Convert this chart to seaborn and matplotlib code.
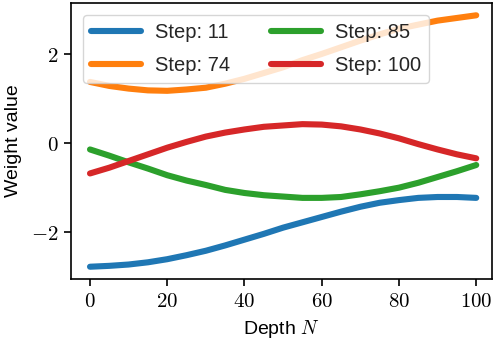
import numpy as np
import pandas as pd
import seaborn as sns
import matplotlib
matplotlib.use("Agg")
import matplotlib.pyplot as plt
from matplotlib.ticker import FuncFormatter

depth = [0, 5, 10, 15, 20, 25, 30, 35, 40, 45, 50, 55, 60, 65, 70, 75, 80, 85, 90, 95, 100]
step_11 = [-2.78, -2.76, -2.73, -2.68, -2.61, -2.52, -2.42, -2.30, -2.17, -2.04, -1.90,
           -1.78, -1.66, -1.54, -1.43, -1.34, -1.28, -1.23, -1.21, -1.21, -1.23]
step_74 = [1.38, 1.29, 1.23, 1.19, 1.18, 1.21, 1.25, 1.34, 1.45, 1.58, 1.71,
           1.87, 2.01, 2.16, 2.31, 2.45, 2.58, 2.67, 2.76, 2.82, 2.88]
step_85 = [-0.14, -0.28, -0.43, -0.57, -0.72, -0.84, -0.94, -1.05, -1.12, -1.17, -1.20,
           -1.23, -1.23, -1.21, -1.15, -1.08, -1.00, -0.89, -0.76, -0.63, -0.49]
step_100 = [-0.68, -0.55, -0.40, -0.25, -0.10, 0.03, 0.15, 0.24, 0.31, 0.37, 0.40,
            0.43, 0.42, 0.38, 0.31, 0.22, 0.11, -0.02, -0.14, -0.25, -0.34]
labels = ["Step: 11", "Step: 74", "Step: 85", "Step: 100"]
colors = ["#1f77b4", "#ff7f0e", "#2ca02c", "#d62728"]

sns.set_style("ticks")
plt.rcParams['font.family'] = ['Liberation Sans', 'DejaVu Sans']
plt.rcParams['mathtext.fontset'] = 'cm'

rows = []
for lab, vals in zip(labels, [step_11, step_74, step_85, step_100]):
    for d, v in zip(depth, vals):
        rows.append({"Depth": d, "Weight": v, "Step": lab})
df = pd.DataFrame(rows)

fig = plt.figure(figsize=(4.94, 3.40), dpi=100)
ax = fig.add_axes([0.1431, 0.1785, 0.8522, 0.8135])
sns.lineplot(data=df, x="Depth", y="Weight", hue="Step", hue_order=labels,
             palette=colors, linewidth=4.4, ax=ax)

for s in ax.spines.values():
    s.set_color("black")
    s.set_linewidth(1.2)
ax.tick_params(axis="both", colors="black", labelsize=15, length=5, width=1.2, pad=4)
ax.set_xticks([0, 20, 40, 60, 80, 100])
ax.set_yticks([-2, 0, 2])
ax.set_xlim(-5, 104)
fmt = FuncFormatter(lambda v, p: "$%g$" % v if v >= 0 else "$-%g$" % (-v))
ax.xaxis.set_major_formatter(fmt)
ax.yaxis.set_major_formatter(fmt)
ax.set_xlabel("Depth $N$", fontsize=14, color="black", labelpad=5)
ax.set_ylabel("Weight value", fontsize=14, color="black", labelpad=6)
ax.legend(ncol=2, loc="upper left", fontsize=14.5, handlelength=2.5, handletextpad=0.7,
          columnspacing=2.0, labelspacing=0.7, borderaxespad=0.6, framealpha=0.8)
fig.savefig("out.png", dpi=100)
